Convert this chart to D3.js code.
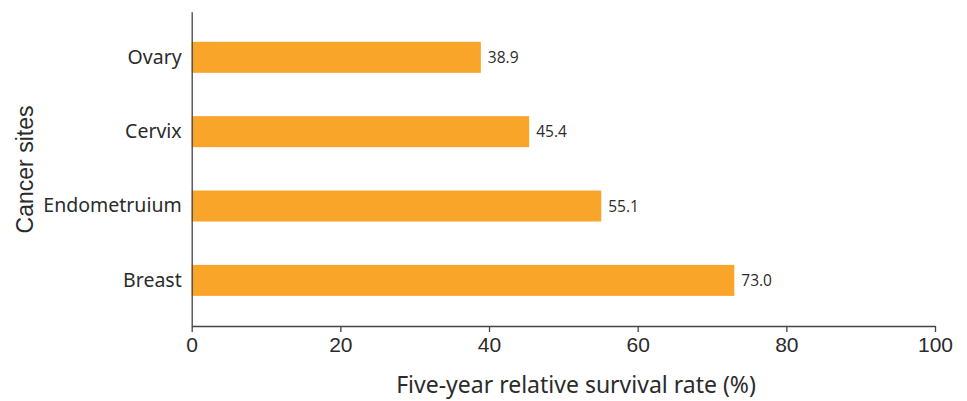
<!DOCTYPE html>
<html><head><meta charset="utf-8">
<script src="https://cdn.jsdelivr.net/npm/d3@7"></script>
<style>body{margin:0;background:#fff}svg{display:block}</style>
</head><body>
<svg id="c" width="967" height="401"></svg>
<script>
const categories = ["Ovary", "Cervix", "Endometruium", "Breast"];
const values = [38.9, 45.4, 55.1, 73.0];
const xTicks = [0, 20, 40, 60, 80, 100];
const xTitle = "Five-year relative survival rate (%)";
const yTitle = "Cancer sites";

const svg = d3.select("#c");
const mLeft = 191.7, mRight = 935, mTop = 11.7, mBottom = 326;
const x = d3.scaleLinear().domain([0, 100]).range([mLeft, mRight]);
const y = d3.scaleBand().domain(categories).range([mTop, mBottom]).paddingInner(0.583).paddingOuter(0.405);
const axisColor = "#444", textColor = "#2b2b2b";

svg.selectAll("rect.bar").data(categories).enter().append("rect")
  .attr("x", x(0)).attr("y", d => y(d))
  .attr("width", (d, i) => x(values[i]) - x(0))
  .attr("height", y.bandwidth())
  .attr("fill", "#f8a52a");

svg.selectAll("text.val").data(categories).enter().append("text")
  .attr("x", (d, i) => x(values[i]) + 7)
  .attr("y", d => y(d) + y.bandwidth() / 2)
  .attr("dy", "0.36em")
  .attr("font-family", "Open Sans, sans-serif").attr("font-size", 15.5)
  .attr("fill", textColor)
  .text((d, i) => values[i].toFixed(1));

const xa = svg.append("g").attr("transform", `translate(0,${mBottom})`)
  .call(d3.axisBottom(x).tickValues(xTicks).tickSize(6).tickSizeOuter(0).tickPadding(5));
xa.select(".domain").attr("stroke", axisColor).attr("stroke-width", 1.3);
xa.selectAll(".tick line").attr("stroke", axisColor).attr("stroke-width", 1.3);
xa.selectAll("text").attr("font-family", "Liberation Sans, Arial, sans-serif").attr("font-size", 21).attr("fill", textColor);

const ya = svg.append("g").attr("transform", `translate(${mLeft},0)`)
  .call(d3.axisLeft(y).tickSize(0).tickPadding(10));
ya.select(".domain").attr("stroke", axisColor).attr("stroke-width", 1.3);
ya.selectAll("text").attr("font-family", "Noto Sans, sans-serif").attr("font-size", 19.5).attr("fill", textColor);

svg.append("text").attr("x", 576).attr("y", 393)
  .attr("text-anchor", "middle").attr("font-family", "Noto Sans, sans-serif").attr("font-size", 23)
  .attr("fill", textColor).text(xTitle);

svg.append("text").attr("transform", `translate(33,169.5) rotate(-90)`)
  .attr("text-anchor", "middle").attr("font-family", "Liberation Sans, Arial, sans-serif").attr("font-size", 23)
  .attr("fill", textColor).text(yTitle);
</script>
</body></html>
